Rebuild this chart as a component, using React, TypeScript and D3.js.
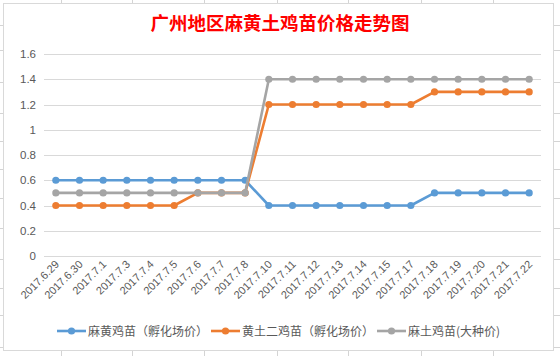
import React from "react";
import * as d3 from "d3";

const categories = [
  "2017.6.29", "2017.6.30", "2017.7.1", "2017.7.3", "2017.7.4", "2017.7.5", "2017.7.6",
  "2017.7.7", "2017.7.8", "2017.7.10", "2017.7.11", "2017.7.12", "2017.7.13", "2017.7.14",
  "2017.7.15", "2017.7.17", "2017.7.18", "2017.7.19", "2017.7.20", "2017.7.21", "2017.7.22",
];
const seriesNames = ["麻黄鸡苗（孵化场价）", "黄土二鸡苗（孵化场价）", "麻土鸡苗(大种价)"];
const mahuang = [0.6, 0.6, 0.6, 0.6, 0.6, 0.6, 0.6, 0.6, 0.6, 0.4, 0.4, 0.4, 0.4, 0.4, 0.4, 0.4, 0.5, 0.5, 0.5, 0.5, 0.5];
const huangtu = [0.4, 0.4, 0.4, 0.4, 0.4, 0.4, 0.5, 0.5, 0.5, 1.2, 1.2, 1.2, 1.2, 1.2, 1.2, 1.2, 1.3, 1.3, 1.3, 1.3, 1.3];
const matu = [0.5, 0.5, 0.5, 0.5, 0.5, 0.5, 0.5, 0.5, 0.5, 1.4, 1.4, 1.4, 1.4, 1.4, 1.4, 1.4, 1.4, 1.4, 1.4, 1.4, 1.4];
const yTicks = [0, 0.2, 0.4, 0.6, 0.8, 1, 1.2, 1.4, 1.6];
const colors = ["#5B9BD5", "#ED7D31", "#A5A5A5"];
const title = "广州地区麻黄土鸡苗价格走势图";

const sheetCols = [61, 132, 204, 277, 348, 421, 493];
const sheetRows = [25, 50, 82, 113, 141, 169, 198, 228, 259, 288, 315, 347];

export default function App() {
  const W = 560, H = 356;
  const x = d3.scaleBand<string>().domain(categories).range([44, 541]);
  const y = d3.scaleLinear().domain([0, 1.6]).range([256, 54]);
  const cx = (c: string) => (x(c) as number) + x.bandwidth() / 2;
  const data = [mahuang, huangtu, matu];
  const line = d3.line<number>().x((_, i) => cx(categories[i])).y((d) => y(d));
  const fmt = (v: number) => String(Math.round(v * 10) / 10);
  const legendX = [57, 211, 377];
  const legendY = 331;
  const font = "'Liberation Sans', Arial, 'Noto Sans CJK SC', sans-serif";
  const cjk = "'Noto Sans CJK SC', 'Liberation Sans', sans-serif";

  return (
    <svg width={W} height={H} style={{ position: "absolute", left: 0, top: 0, background: "#fff" }}>
      {/* spreadsheet grid outside chart */}
      {sheetCols.map((c) => (
        <g key={"c" + c}>
          <line x1={c + 0.5} x2={c + 0.5} y1={0} y2={3} stroke="#d4d4d4" />
          <line x1={c + 0.5} x2={c + 0.5} y1={351} y2={356} stroke="#d4d4d4" />
        </g>
      ))}
      {sheetRows.map((r) => (
        <g key={"r" + r}>
          <line x1={0} x2={3} y1={r + 0.5} y2={r + 0.5} stroke="#d4d4d4" />
          <line x1={554} x2={560} y1={r + 0.5} y2={r + 0.5} stroke="#d4d4d4" />
        </g>
      ))}
      <rect x={3.5} y={3.5} width={550} height={347} fill="#fff" stroke="#d9d9d9" />
      <text x={280} y={30} textAnchor="middle" fill="#FF0000" fontSize={18.5} fontWeight="bold" fontFamily={cjk}>
        {title}
      </text>
      {yTicks.map((t) => (
        <g key={t}>
          <line x1={44} x2={541} y1={Math.round(y(t)) + 0.5} y2={Math.round(y(t)) + 0.5} stroke="#d9d9d9" />
          <text x={36} y={y(t) + 4} textAnchor="end" fontSize={11.5} fill="#595959" fontFamily={font}>
            {fmt(t)}
          </text>
        </g>
      ))}
      {categories.map((c) => (
        <text
          key={c}
          transform={`translate(${cx(c) + 4},${265}) rotate(-45)`}
          textAnchor="end"
          fontSize={11}
          fill="#595959"
          fontFamily={font}
        >
          {c}
        </text>
      ))}
      {data.map((s, si) => (
        <g key={si}>
          <path d={line(s) as string} fill="none" stroke={colors[si]} strokeWidth={2.6} strokeLinejoin="round" />
          {s.map((v, i) => (
            <circle key={i} cx={cx(categories[i])} cy={y(v)} r={3.6} fill={colors[si]} />
          ))}
        </g>
      ))}
      {seriesNames.map((n, si) => (
        <g key={n}>
          <line x1={legendX[si]} x2={legendX[si] + 29} y1={legendY} y2={legendY} stroke={colors[si]} strokeWidth={2.6} />
          <circle cx={legendX[si] + 14.5} cy={legendY} r={3.6} fill={colors[si]} />
          <text x={legendX[si] + 31} y={legendY + 4.5} fontSize={12} fill="#595959" fontFamily={cjk}>
            {n}
          </text>
        </g>
      ))}
    </svg>
  );
}
